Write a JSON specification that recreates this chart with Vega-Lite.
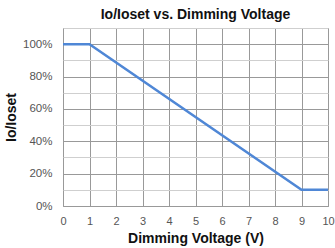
{
  "$schema": "https://vega.github.io/schema/vega-lite/v6.json",
  "width": 265,
  "height": 178,
  "autosize": {"type": "none"},
  "padding": {"left": 63, "top": 28, "right": 7, "bottom": 42},
  "background": "white",
  "title": {
    "text": "Io/Ioset vs. Dimming Voltage",
    "font": "Liberation Sans",
    "fontSize": 14,
    "fontWeight": "bold",
    "color": "#111",
    "offset": 6
  },
  "config": {
    "view": {"stroke": "#999", "strokeWidth": 1},
    "axis": {"labelFont": "Liberation Sans", "titleFont": "Liberation Sans"}
  },
  "data": {
    "values": [
      {"v": 0, "r": 1.0},
      {"v": 1, "r": 1.0},
      {"v": 9, "r": 0.1},
      {"v": 10, "r": 0.1}
    ]
  },
  "mark": {"type": "line", "color": "#4f87d6", "strokeWidth": 2.5},
  "encoding": {
    "x": {
      "field": "v",
      "type": "quantitative",
      "scale": {"domain": [0, 10], "nice": false},
      "axis": {
        "title": "Dimming Voltage (V)",
        "values": [0,1,2,3,4,5,6,7,8,9,10],
        "ticks": false,
        "domain": false,
        "labelFontSize": 11,
        "labelColor": "#555",
        "labelPadding": 9,
        "labelFlush": false,
        "titleFontSize": 14,
        "titleFontWeight": "bold",
        "titleColor": "#111",
        "titlePadding": 5,
        "gridColor": "#999",
        "gridOpacity": 1
      }
    },
    "y": {
      "field": "r",
      "type": "quantitative",
      "scale": {"domain": [0, 1.1], "nice": false},
      "axis": {
        "title": "Io/Ioset",
        "values": [0,0.1,0.2,0.3,0.4,0.5,0.6,0.7,0.8,0.9,1.0,1.1],
        "labelExpr": "(round(datum.value*10) % 2 == 0 && datum.value <= 1.0001) ? format(datum.value, '.0%') : ''",
        "ticks": false,
        "domain": false,
        "labelFontSize": 11.5,
        "labelColor": "#555",
        "labelPadding": 11,
        "titleFontSize": 14,
        "titleFontWeight": "bold",
        "titleColor": "#111",
        "titlePadding": 4,
        "gridColor": {"condition": {"test": "round(datum.value*10) % 2 == 0", "value": "#999"}, "value": "#cfcfcf"},
        "gridOpacity": 1
      }
    }
  }
}
